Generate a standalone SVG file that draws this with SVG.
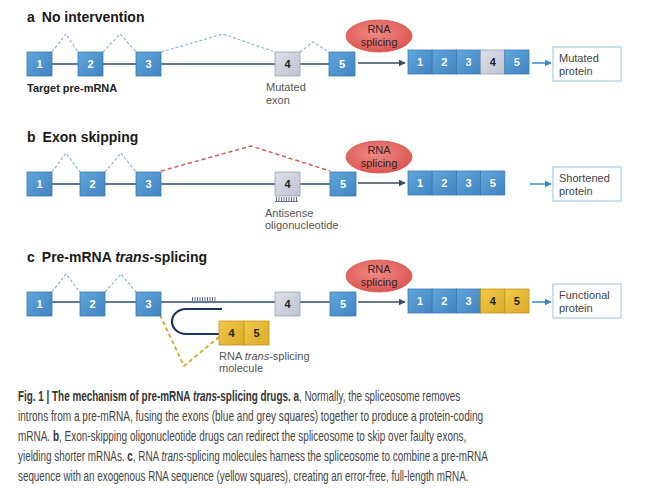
<svg xmlns="http://www.w3.org/2000/svg" width="668" height="488" viewBox="0 0 668 488">
<defs>
<linearGradient id="gBlue" x1="0" y1="0" x2="1" y2="1"><stop offset="0" stop-color="#62a6dc"/><stop offset="1" stop-color="#3f84c0"/></linearGradient>
<linearGradient id="gGrey" x1="0" y1="0" x2="1" y2="1"><stop offset="0" stop-color="#dde0ea"/><stop offset="1" stop-color="#bfc4d2"/></linearGradient>
<linearGradient id="gYel" x1="0" y1="0" x2="1" y2="1"><stop offset="0" stop-color="#f2c94a"/><stop offset="1" stop-color="#dcaa28"/></linearGradient>
<radialGradient id="gRed" cx="0.45" cy="0.4" r="0.65"><stop offset="0" stop-color="#f08a84"/><stop offset="1" stop-color="#d9534f"/></radialGradient>
<marker id="arrDark" viewBox="0 0 10 10" refX="9" refY="5" markerWidth="7" markerHeight="7" markerUnits="userSpaceOnUse" orient="auto"><path d="M0,0 L10,5 L0,10 z" fill="#3d4d60"/></marker>
<marker id="arrBlue" viewBox="0 0 10 10" refX="9" refY="5" markerWidth="7" markerHeight="7" markerUnits="userSpaceOnUse" orient="auto"><path d="M0,0 L10,5 L0,10 z" fill="#3a8ac8"/></marker>
</defs>
<style>
text{font-family:"Liberation Sans",Arial,sans-serif}
.title{font-size:14px;font-weight:bold;fill:#1a1a1a}
.lbl{font-size:11px;fill:#555}
.blbl{font-size:11px;font-weight:bold;fill:#222}
.eb{fill:url(#gBlue);stroke:#3a7ab2;stroke-width:0.8}
.eg{fill:url(#gGrey);stroke:#9aa0b2;stroke-width:0.8}
.ey{fill:url(#gYel);stroke:#c0951c;stroke-width:0.8}
.nw{font-size:11px;font-weight:bold;fill:#fff;text-anchor:middle}
.nd{font-size:11px;font-weight:bold;fill:#222;text-anchor:middle}
.bb{stroke:#2c4a7a;stroke-width:1.5;fill:none}
.intr{stroke:#8bb6dc;stroke-width:1.2;stroke-dasharray:3,2;fill:none}
.intrR{stroke:#d25a52;stroke-width:1.5;stroke-dasharray:4,3;fill:none}
.intrY{stroke:#d4a52a;stroke-width:1.8;stroke-dasharray:4,3;fill:none}
.ell{fill:url(#gRed);stroke:#d9534f;stroke-width:0.8}
.et{font-size:11px;fill:#3a2020;text-anchor:middle}
.arD{stroke:#3d4d60;stroke-width:1.5;fill:none}
.arB{stroke:#3a8ac8;stroke-width:1.5;fill:none}
.pbox{fill:#fff;stroke:#a8cce8;stroke-width:1.2}
.pt{font-size:11px;fill:#444}
.comb{stroke:#1f3560;stroke-width:0.7;fill:none}
.cap{font-size:14px;fill:#444}
.capb{font-weight:bold;fill:#333}
</style>

<!-- Panel a -->
<g id="panel-a">
<text class="title" x="27" y="22">a<tspan dx="7">No intervention</tspan></text>
</g>
<g id="connectors-a">
<line class="bb" x1="52" y1="64" x2="329" y2="64"/>
<polyline class="intr" points="52,52 66,34 78,52"/>
<polyline class="intr" points="103,52 120,34 136,52"/>
<polyline class="intr" points="161,52 223,34 275,52"/>
<polyline class="intr" points="300,52 313,42 329,52"/>
<line class="arD" x1="358" y1="63" x2="405" y2="63" marker-end="url(#arrDark)"/>
<line class="arB" x1="532" y1="63" x2="551" y2="63" marker-end="url(#arrBlue)"/>
</g>
<g id="a-exon1"><rect class="eb" x="27" y="52" width="25" height="24"/><text class="nw" x="39.5" y="68">1</text></g>
<g id="a-exon2"><rect class="eb" x="78" y="52" width="25" height="24"/><text class="nw" x="90.5" y="68">2</text></g>
<g id="a-exon3"><rect class="eb" x="136" y="52" width="25" height="24"/><text class="nw" x="148.5" y="68">3</text></g>
<g id="a-exon4"><rect class="eg" x="275" y="52" width="25" height="24"/><text class="nd" x="287.5" y="68">4</text></g>
<g id="a-exon5"><rect class="eb" x="329" y="52" width="26" height="24"/><text class="nw" x="342" y="68">5</text></g>
<g id="a-labels">
<text class="blbl" x="27" y="92">Target pre-mRNA</text>
<text class="lbl" x="266" y="91">Mutated</text>
<text class="lbl" x="266" y="104">exon</text>
</g>
<g id="a-splicing"><ellipse class="ell" cx="379" cy="36" rx="33" ry="16"/><text class="et" x="379" y="33">RNA</text><text class="et" x="379" y="46">splicing</text></g>
<g id="a-mrna">
<rect class="eb" x="408" y="50" width="24.2" height="24"/><text class="nw" x="420" y="66">1</text>
<rect class="eb" x="432.2" y="50" width="24.2" height="24"/><text class="nw" x="444.3" y="66">2</text>
<rect class="eb" x="456.4" y="50" width="24.2" height="24"/><text class="nw" x="468.5" y="66">3</text>
<rect class="eg" x="480.6" y="50" width="24.2" height="24"/><text class="nd" x="492.7" y="66">4</text>
<rect class="eb" x="504.8" y="50" width="24.2" height="24"/><text class="nw" x="516.9" y="66">5</text>
</g>
<g id="a-protein"><rect class="pbox" x="553" y="47" width="68" height="34"/><text class="pt" x="559" y="62">Mutated</text><text class="pt" x="559" y="75">protein</text></g>

<!-- Panel b -->
<g id="panel-b">
<text class="title" x="27" y="142">b<tspan dx="7">Exon skipping</tspan></text>
</g>
<g id="connectors-b">
<line class="bb" x1="52" y1="184" x2="330" y2="184"/>
<polyline class="intr" points="52,172 66,153 80,172"/>
<polyline class="intr" points="105,172 121,153 136,172"/>
<polyline class="intrR" points="161,171 251,146 330,171"/>
<line class="arD" x1="358" y1="183" x2="405" y2="183" marker-end="url(#arrDark)"/>
<line class="arB" x1="530" y1="184" x2="551" y2="184" marker-end="url(#arrBlue)"/>
</g>
<g id="b-exon1"><rect class="eb" x="27" y="172" width="25" height="24"/><text class="nw" x="39.5" y="188">1</text></g>
<g id="b-exon2"><rect class="eb" x="80" y="172" width="25" height="24"/><text class="nw" x="92.5" y="188">2</text></g>
<g id="b-exon3"><rect class="eb" x="136" y="172" width="25" height="24"/><text class="nw" x="148.5" y="188">3</text></g>
<g id="b-exon4"><rect class="eg" x="275" y="172" width="25" height="24"/><text class="nd" x="287.5" y="188">4</text></g>
<g id="b-exon5"><rect class="eb" x="330" y="172" width="26" height="24"/><text class="nw" x="343" y="188">5</text></g>
<g id="b-antisense">
<path class="comb" stroke-width="1" d="M275,201.5 H298"/>
<path class="comb" d="M276.5,197 V201 M279,197 V201 M281.5,197 V201 M284,197 V201 M286.5,197 V201 M289,197 V201 M291.5,197 V201 M294,197 V201 M296.5,197 V201"/>
<text class="lbl" x="265" y="217">Antisense</text>
<text class="lbl" x="265" y="229">oligonucleotide</text>
</g>
<g id="b-splicing"><ellipse class="ell" cx="379" cy="157" rx="33" ry="16"/><text class="et" x="379" y="154">RNA</text><text class="et" x="379" y="167">splicing</text></g>
<g id="b-mrna">
<rect class="eb" x="408" y="171" width="24.2" height="24"/><text class="nw" x="420" y="187">1</text>
<rect class="eb" x="432.2" y="171" width="24.2" height="24"/><text class="nw" x="444.3" y="187">2</text>
<rect class="eb" x="456.4" y="171" width="24.2" height="24"/><text class="nw" x="468.5" y="187">3</text>
<rect class="eb" x="480.6" y="171" width="24.2" height="24"/><text class="nw" x="492.7" y="187">5</text>
</g>
<g id="b-protein"><rect class="pbox" x="553" y="167" width="68" height="34"/><text class="pt" x="559" y="182">Shortened</text><text class="pt" x="559" y="195">protein</text></g>

<!-- Panel c -->
<g id="panel-c">
<text class="title" x="27" y="262">c<tspan dx="7">Pre-mRNA </tspan><tspan font-style="italic">trans</tspan>-splicing</text>
</g>
<g id="connectors-c">
<line class="bb" x1="52" y1="302" x2="330" y2="302"/>
<polyline class="intr" points="52,292 66,274 80,292"/>
<polyline class="intr" points="105,292 121,274 136,292"/>
<polyline class="intrY" points="160,315 184,366 219,337"/>
<path class="comb" d="M192.5,297 V301 M195,297 V301 M197.5,297 V301 M200,297 V301 M202.5,297 V301 M205,297 V301 M207.5,297 V301 M210,297 V301 M212.5,297 V301 M215,297 V301"/>
<path d="M222,309 H186 C178,309 172,315 172,321.5 C172,328 178,334 186,334 H219" stroke="#1f3560" stroke-width="2.2" fill="none"/>
<line class="arD" x1="358" y1="302" x2="405" y2="302" marker-end="url(#arrDark)"/>
<line class="arB" x1="532" y1="302" x2="551" y2="302" marker-end="url(#arrBlue)"/>
</g>
<g id="c-exon1"><rect class="eb" x="27" y="292" width="25" height="24"/><text class="nw" x="39.5" y="308">1</text></g>
<g id="c-exon2"><rect class="eb" x="80" y="292" width="25" height="24"/><text class="nw" x="92.5" y="308">2</text></g>
<g id="c-exon3"><rect class="eb" x="136" y="292" width="25" height="24"/><text class="nw" x="148.5" y="308">3</text></g>
<g id="c-exon4"><rect class="eg" x="275" y="292" width="25" height="24"/><text class="nd" x="287.5" y="308">4</text></g>
<g id="c-exon5"><rect class="eb" x="330" y="292" width="26" height="24"/><text class="nw" x="343" y="308">5</text></g>
<g id="c-tsm">
<rect class="ey" x="219" y="321" width="25" height="24"/><text class="nd" x="231.5" y="337">4</text>
<rect class="ey" x="244" y="321" width="25" height="24"/><text class="nd" x="256.5" y="337">5</text>
<text class="lbl" x="219" y="360">RNA <tspan font-style="italic">trans</tspan>-splicing</text>
<text class="lbl" x="219" y="372">molecule</text>
</g>
<g id="c-splicing"><ellipse class="ell" cx="379" cy="276" rx="33" ry="16"/><text class="et" x="379" y="273">RNA</text><text class="et" x="379" y="286">splicing</text></g>
<g id="c-mrna">
<rect class="eb" x="408" y="289" width="24.2" height="24"/><text class="nw" x="420" y="305">1</text>
<rect class="eb" x="432.2" y="289" width="24.2" height="24"/><text class="nw" x="444.3" y="305">2</text>
<rect class="eb" x="456.4" y="289" width="24.2" height="24"/><text class="nw" x="468.5" y="305">3</text>
<rect class="ey" x="480.6" y="289" width="24.2" height="24"/><text class="nd" x="492.7" y="305">4</text>
<rect class="ey" x="504.8" y="289" width="24.2" height="24"/><text class="nd" x="516.9" y="305">5</text>
</g>
<g id="c-protein"><rect class="pbox" x="553" y="284" width="68" height="34"/><text class="pt" x="559" y="299">Functional</text><text class="pt" x="559" y="312">protein</text></g>

<!-- Caption -->
<g id="caption">
<text class="cap" transform="translate(18,401) scale(0.707,1)"><tspan class="capb">Fig. 1 | The mechanism of pre-mRNA </tspan><tspan class="capb" font-style="italic">trans</tspan><tspan class="capb">-splicing drugs. a</tspan>, Normally, the spliceosome removes</text>
<text class="cap" transform="translate(18,421) scale(0.72,1)">introns from a pre-mRNA, fusing the exons (blue and grey squares) together to produce a protein-coding</text>
<text class="cap" transform="translate(18,441) scale(0.713,1)">mRNA. <tspan class="capb">b</tspan>, Exon-skipping oligonucleotide drugs can redirect the spliceosome to skip over faulty exons,</text>
<text class="cap" transform="translate(18,461) scale(0.707,1)">yielding shorter mRNAs. <tspan class="capb">c</tspan>, RNA <tspan font-style="italic">trans</tspan>-splicing molecules harness the spliceosome to combine a pre-mRNA</text>
<text class="cap" transform="translate(18,481) scale(0.703,1)">sequence with an exogenous RNA sequence (yellow squares), creating an error-free, full-length mRNA.</text>
</g>
</svg>
